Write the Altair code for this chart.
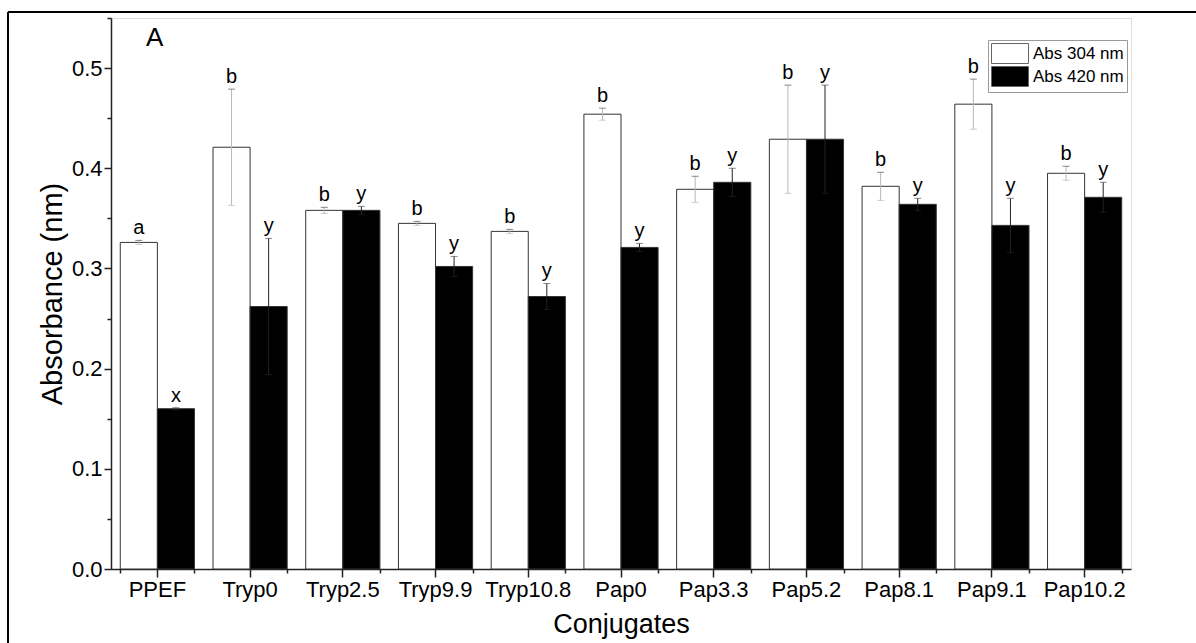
import altair as alt
import pandas as pd

categories = ["PPEF", "Tryp0", "Tryp2.5", "Tryp9.9", "Tryp10.8", "Pap0",
              "Pap3.3", "Pap5.2", "Pap8.1", "Pap9.1", "Pap10.2"]
series = ["Abs 304 nm", "Abs 420 nm"]
abs304 = [0.326, 0.421, 0.358, 0.345, 0.337, 0.454, 0.379, 0.429, 0.382, 0.464, 0.395]
err304 = [0.002, 0.058, 0.003, 0.002, 0.002, 0.006, 0.013, 0.054, 0.014, 0.025, 0.007]
abs420 = [0.160, 0.262, 0.358, 0.302, 0.272, 0.321, 0.386, 0.429, 0.364, 0.343, 0.371]
err420 = [0.001, 0.068, 0.004, 0.010, 0.013, 0.004, 0.014, 0.054, 0.006, 0.027, 0.015]
letters304 = ["a", "b", "b", "b", "b", "b", "b", "b", "b", "b", "b"]
letters420 = ["x", "y", "y", "y", "y", "y", "y", "y", "y", "y", "y"]
y_major = [0.0, 0.1, 0.2, 0.3, 0.4, 0.5]
y_minor = [0.05, 0.15, 0.25, 0.35, 0.45, 0.55]

rows = []
for s, vals, errs, lets in [(series[0], abs304, err304, letters304),
                            (series[1], abs420, err420, letters420)]:
    for c, v, e, l in zip(categories, vals, errs, lets):
        rows.append({"cat": c, "series": s, "value": v, "err": e, "letter": l,
                     "lo": v - e, "hi": v + e})
df = pd.DataFrame(rows)

FONT = "Liberation Sans"
W, H = 1020, 551

xscale = alt.Scale(domain=categories, paddingInner=0.2, paddingOuter=0.1)
yscale = alt.Scale(domain=[0, 0.55], nice=False, zero=True)
xoff = alt.XOffset("series:N", sort=series, scale=alt.Scale(domain=series, paddingInner=0, paddingOuter=0))

x_main_axis = alt.Axis(orient="bottom", title="Conjugates", labelAngle=0, tickSize=8,
                       labelPadding=2, titlePadding=11, labelFontSize=22, titleFontSize=27,
                       titleFontWeight="normal", domainColor="#222", tickColor="#222",
                       labelColor="black", titleColor="black", labelFont=FONT, titleFont=FONT,
                       domainWidth=1.5, tickWidth=1.5)
y_main_axis = alt.Axis(orient="left", title="Absorbance (nm)", values=y_major, format=".1f",
                       tickSize=7, labelPadding=2, titlePadding=4, labelFontSize=22,
                       titleFontSize=29, titleFontWeight="normal", domainColor="#222",
                       tickColor="#222", labelColor="black", titleColor="black",
                       labelFont=FONT, titleFont=FONT, grid=False, domainWidth=1.5, tickWidth=1.5)
x_minor_axis = alt.Axis(orient="bottom", title=None, labels=False, domain=False, tickBand="extent",
                        tickSize=4, tickColor="#222", tickWidth=1.5)
y_minor_axis = alt.Axis(orient="left", title=None, labels=False, domain=False, values=y_minor,
                        tickSize=4, tickColor="#222", grid=False, tickWidth=1.5)

bars = alt.Chart(df).mark_bar(stroke="#333", strokeWidth=1).encode(
    x=alt.X("cat:N", sort=categories, scale=xscale, axis=x_main_axis),
    xOffset=xoff,
    y=alt.Y("value:Q", scale=yscale, axis=y_main_axis),
    fill=alt.Fill("series:N", sort=series,
                  scale=alt.Scale(domain=series, range=["white", "black"]),
                  legend=alt.Legend(title=None, orient="none", legendX=877, legendY=22,
                                    symbolType="M-1,-1H2.7V1H-1Z", symbolSize=400,
                                    symbolStrokeColor="#666", symbolStrokeWidth=1,
                                    labelFontSize=17, labelFont=FONT, labelColor="black",
                                    fillColor="white", strokeColor="#999", padding=3,
                                    rowPadding=-2, labelOffset=21)),
)

whisk_color = alt.Color("series:N", sort=series,
                        scale=alt.Scale(domain=series, range=["#b8b8b8", "#222222"]), legend=None)

whiskers = alt.Chart(df).mark_rule(strokeWidth=1).encode(
    x=alt.X("cat:N", sort=categories, scale=xscale, axis=x_minor_axis),
    xOffset=xoff,
    y=alt.Y("lo:Q", scale=yscale, axis=y_minor_axis),
    y2="hi:Q",
    color=whisk_color,
)

caps_hi = alt.Chart(df).mark_tick(color="#555", size=7, thickness=1).encode(
    x=alt.X("cat:N", sort=categories, scale=xscale, axis=None),
    xOffset=xoff,
    y=alt.Y("hi:Q", scale=yscale, axis=None),
)
caps_lo = alt.Chart(df).mark_tick(size=7, thickness=1).encode(
    x=alt.X("cat:N", sort=categories, scale=xscale, axis=None),
    xOffset=xoff,
    y=alt.Y("lo:Q", scale=yscale, axis=None),
    color=whisk_color,
)

labels = alt.Chart(df).mark_text(baseline="bottom", dy=-2, fontSize=20, font=FONT,
                                 color="black").encode(
    x=alt.X("cat:N", sort=categories, scale=xscale, axis=None),
    xOffset=xoff,
    y=alt.Y("hi:Q", scale=yscale, axis=None),
    text="letter:N",
)

one = pd.DataFrame({"k": [0]})
panel = alt.Chart(one).mark_text(text="A", fontSize=26, font=FONT, color="black",
                                 align="left", baseline="middle").encode(
    x=alt.value(35), y=alt.value(20))
frame_top = alt.Chart(one).mark_rule(color="black", strokeWidth=2).encode(
    x=alt.value(-103), x2=alt.value(1100), y=alt.value(-6))
frame_left = alt.Chart(one).mark_rule(color="black", strokeWidth=2).encode(
    x=alt.value(-103), y=alt.value(-6), y2=alt.value(640))

chart = alt.layer(bars, whiskers, caps_hi, caps_lo, labels, panel, frame_top, frame_left).resolve_axis(
    x="independent", y="independent"
).resolve_scale(color="independent").properties(
    width=W, height=H,
    autosize=alt.AutoSizeParams(type="none"),
    padding={"left": 111, "top": 18, "right": 65, "bottom": 74},
).configure_view(stroke=None).configure(background="white")

chart.save("out.html", embed_options={"renderer": "svg", "actions": False})
